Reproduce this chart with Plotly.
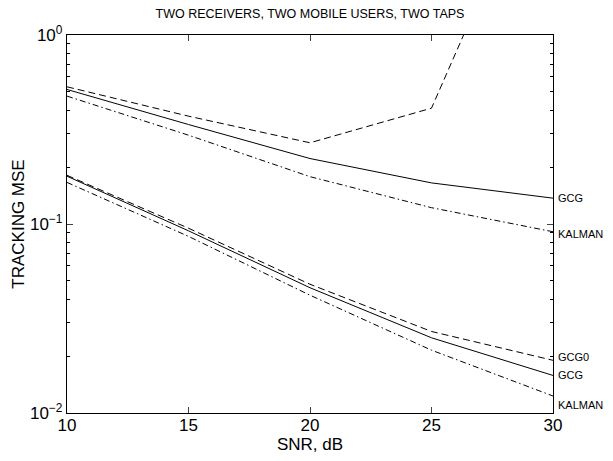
import plotly.graph_objects as go
import math

snr = [10, 15, 20, 25, 30]

# upper group (higher MSE)
up_gcg0 = [0.532, 0.372, 0.269, 0.41, 12.0]
up_gcg = [0.515, 0.336, 0.222, 0.165, 0.137]
up_kalman = [0.475, 0.295, 0.178, 0.122, 0.091]

# lower group
lo_gcg0 = [0.181, 0.095, 0.048, 0.027, 0.019]
lo_gcg = [0.179, 0.092, 0.046, 0.025, 0.0158]
lo_kalman = [0.166, 0.086, 0.042, 0.0215, 0.0123]

title = "TWO RECEIVERS, TWO MOBILE USERS, TWO TAPS"
xlabel = "SNR, dB"
ylabel = "TRACKING MSE"
ytickvals = [0.01, 0.1, 1]
yticktext = ["10<sup>\u22122</sup>", "10<sup>\u22121</sup>", "10<sup>0</sup>"]
xtickvals = [10, 15, 20, 25, 30]

FONT = "Liberation Sans, Arial, Helvetica, sans-serif"
DASH = "7px,4px"
DASHDOT = "6px,3px,1.5px,3px"

fig = go.Figure()
series = [
    (up_gcg0, DASH), (up_gcg, "solid"), (up_kalman, DASHDOT),
    (lo_gcg0, DASH), (lo_gcg, "solid"), (lo_kalman, DASHDOT),
]
for ys, d in series:
    fig.add_trace(go.Scatter(x=snr, y=ys, mode="lines",
                             line=dict(color="black", width=1, dash=d),
                             showlegend=False, hoverinfo="skip"))

labels = [
    ("GCG", up_gcg[-1], 0),
    ("KALMAN", up_kalman[-1], -2),
    ("GCG0", lo_gcg0[-1], 3),
    ("GCG", lo_gcg[-1], 0),
    ("KALMAN", lo_kalman[-1], -9),
]
for txt, v, ys in labels:
    fig.add_annotation(x=snr[-1], y=math.log10(v), xref="x", yref="y",
                       text=txt, showarrow=False, xanchor="left",
                       yanchor="middle", xshift=3, yshift=ys,
                       font=dict(size=11, color="black", family=FONT))

minor_vals = [k * 10 ** e for e in (-2, -1) for k in range(2, 10)]

fig.update_layout(
    width=613, height=461,
    margin=dict(l=67, r=60, t=35, b=44),
    paper_bgcolor="white", plot_bgcolor="white",
    font=dict(family=FONT, size=17, color="black"),
    title=dict(text=title, x=0.5, xref="paper", xanchor="center",
               y=0.9696, yanchor="middle",
               font=dict(size=12.5, family=FONT, color="black")),
    xaxis=dict(range=[10, 30], tickvals=xtickvals, ticks="inside", ticklen=6,
               showline=True, linecolor="black", linewidth=1.3, mirror="ticks",
               showgrid=False, zeroline=False, ticklabelstandoff=-4,
               tickfont=dict(size=17), title=dict(text=xlabel, standoff=3,
               font=dict(size=17))),
    yaxis=dict(type="log", range=[-2, 0], tickvals=ytickvals, ticktext=yticktext,
               ticks="inside", ticklen=6, showline=True, linecolor="black",
               linewidth=1.3, mirror="ticks", showgrid=False, zeroline=False,
               tickfont=dict(size=17),
               minor=dict(tickvals=minor_vals, ticks="inside", ticklen=3,
                          tickcolor="black", showgrid=False),
               title=dict(text=ylabel, standoff=1, font=dict(size=17))),
)

fig.write_html("out.html", config={"displayModeBar": False},
               post_script="document.body.style.margin='0px';")
